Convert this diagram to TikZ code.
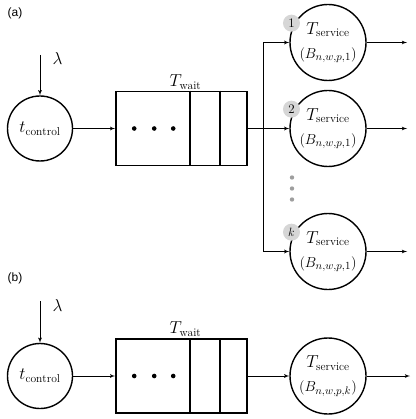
\documentclass[tikz,border=0pt]{standalone}
\usepackage{fontspec}
\usepackage{tikz}
\usetikzlibrary{positioning, arrows}
\newfontfamily\panelfont{Liberation Sans}
\newcommand{\bigtext}{\fontsize{16.5}{20}\selectfont}
\newcommand{\sizetext}{\fontsize{15}{18}\selectfont}

\begin{document}
\begin{tikzpicture}[
				x=1pt, y=-1pt,
				->,
				>=latex',
				thin line/.style={line width=0.8pt},
				every node/.style={font=\bigtext},
				station/.style={draw, circle, line width=1.4pt, inner sep=0pt, align=center},
				control/.style={station, minimum size=65pt},
				server/.style={station, minimum size=76pt},
				buffer/.style={draw, rectangle, line width=1.6pt, minimum width=131pt, minimum height=74pt},
				badge/.style={circle, fill=black!16, inner sep=0pt, minimum size=17pt, font=\fontsize{13}{15}\selectfont},
				panel/.style={font=\panelfont\fontsize{12}{14}\selectfont}]

			\useasboundingbox (0,0) rectangle (415,419);

			% (a) several servers
			\node[panel] (labela) at (15,13) {(a)};
			\node[control] (tca) at (40,128.5) {$t_{\mathrm{control}}$};
			\node[buffer, right of=tca, node distance=141.5pt] (queuea) {};
			\node[above=-2pt of queuea, xshift=4pt] (waita) {$T_{\mathrm{wait}}$};
			\node[server, right of=queuea, node distance=146.5pt] (srv2) {$T_{\mathrm{service}}$\\[4pt]{\sizetext$\bigl(B_{n,w,p,1}\bigr)$}};
			\node[server, above of=srv2, node distance=86pt] (srv1) {$T_{\mathrm{service}}$\\[4pt]{\sizetext$\bigl(B_{n,w,p,1}\bigr)$}};
			\node[server, below of=srv2, node distance=123pt] (srvk) {$T_{\mathrm{service}}$\\[4pt]{\sizetext$\bigl(B_{n,w,p,1}\bigr)$}};
			\node[badge] (n1) at ([xshift=-3pt]srv1.150) {1};
			\node[badge] (n2) at ([xshift=-3pt]srv2.150) {2};
			\node[badge] (nk) at ([xshift=-3pt]srvk.150) {$k$};

			\coordinate (lama) at (40,55);
			\node[right=9pt of lama, yshift=-4pt] (lamtxta) {$\lambda$};
			\coordinate[right of=queuea, node distance=81.5pt] (fork);
			\coordinate[right of=srv1, node distance=79pt] (out1);
			\coordinate[right of=srv2, node distance=79pt] (out2);
			\coordinate[right of=srvk, node distance=79pt] (outk);

			\draw[thin line] (lama) -- (tca);
			\draw[thin line] (tca) -- (queuea);
			\draw[thin line, -] (queuea) -- (fork);
			\draw[thin line] (fork) -- (srv2);
			\draw[thin line] (fork) |- (srv1);
			\draw[thin line] (fork) |- (srvk);
			\draw[thin line] (srv1) -- (out1);
			\draw[thin line] (srv2) -- (out2);
			\draw[thin line] (srvk) -- (outk);

			\foreach \d in {49,60,71}
				\fill[black!38] ([xshift=-36pt, yshift=-\d pt]srv2.center) circle (2.2pt);

			% (b) one server
			\node[panel] (labelb) at (15,278) {(b)};
			\node[control] (tcb) at (40,376) {$t_{\mathrm{control}}$};
			\node[buffer, right of=tcb, node distance=141.5pt] (queueb) {};
			\node[above=-2pt of queueb, xshift=4pt] (waitb) {$T_{\mathrm{wait}}$};
			\node[server, right of=queueb, node distance=146.5pt] (srvb) {$T_{\mathrm{service}}$\\[4pt]{\sizetext$\bigl(B_{n,w,p,k}\bigr)$}};

			\coordinate (lamb) at (40,301);
			\node[right=9pt of lamb, yshift=-4pt] (lamtxtb) {$\lambda$};
			\coordinate[right of=srvb, node distance=82pt] (outb);

			\draw[thin line] (lamb) -- (tcb);
			\draw[thin line] (tcb) -- (queueb);
			\draw[thin line] (queueb) -- (srvb);
			\draw[thin line] (srvb) -- (outb);

			% cells and dots of both queues
			\foreach \q in {queuea, queueb} {
				\foreach \c in {75,105}
					\draw[-, line width=1.6pt] ([xshift=\c pt]\q.north west) -- ([xshift=\c pt]\q.south west);
				\foreach \d in {19,39,58}
					\fill ([xshift=\d pt]\q.west) circle (2.3pt);
			}

		\end{tikzpicture}
\end{document}
